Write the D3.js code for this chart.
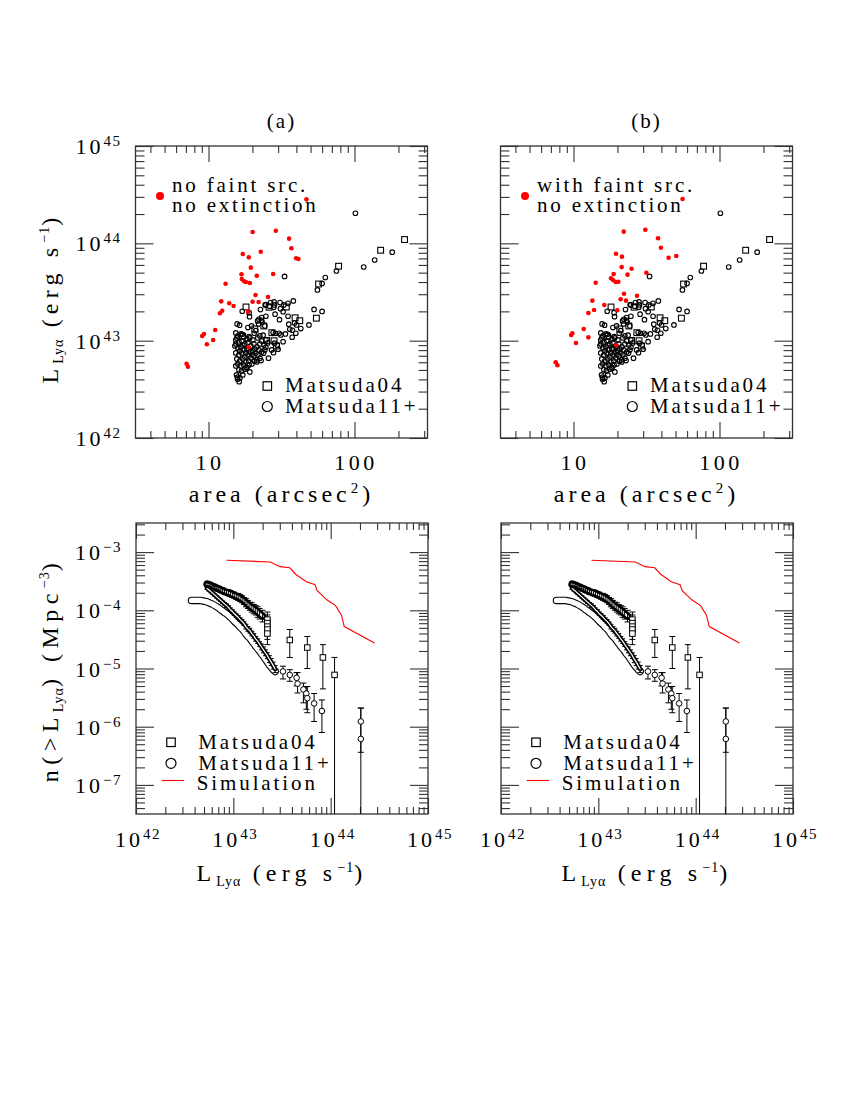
<!DOCTYPE html>
<html><head><meta charset="utf-8">
<script src="https://cdn.jsdelivr.net/npm/d3@7"></script>
<style>body{margin:0;background:#fff} text{font-family:'Liberation Serif',serif;fill:#000}</style>
</head><body><svg id="c" width="850" height="1100"></svg>
<script>
// ---------------- DATA (log10 values) ----------------
// Top panels: x = log10(area / arcsec^2), y = log10(L_Lya / erg s^-1)
const redA_logArea = [1.671,1.302,1.461,1.552,1.568,1.358,1.235,1.276,1.600,1.616,1.290,1.331,1.443,1.226,1.117,1.228,1.244,1.256,1.283,1.322,1.408,1.302,1.343,1.087,1.142,1.172,1.094,1.078,1.272,1.046,0.969,0.957,1.032,0.989,0.850,0.859,1.275];
const redA_logL    = [44.452,44.116,44.130,44.048,43.949,43.914,43.890,43.856,43.846,43.839,43.750,43.667,43.685,43.682,43.585,43.634,43.610,43.603,43.592,43.469,43.449,43.400,43.397,43.404,43.384,43.356,43.308,43.281,43.298,43.110,43.068,43.048,43.007,42.963,42.763,42.732,42.932];
const redB_logArea = [1.747,1.492,1.344,1.579,1.599,1.291,1.332,1.651,1.704,1.398,1.330,1.499,1.275,1.370,1.152,1.257,1.271,1.289,1.307,1.346,1.435,1.323,1.360,1.129,1.211,1.141,1.102,1.300,1.070,0.992,0.984,1.102,1.017,0.878,0.890,1.293];
const redB_logL    = [44.455,44.140,44.120,44.052,43.955,43.893,43.863,43.852,43.870,43.739,43.756,43.698,43.685,43.678,43.595,43.641,43.623,43.603,43.606,43.482,43.462,43.425,43.411,43.411,43.366,43.315,43.284,43.312,43.120,43.076,43.058,43.034,42.976,42.778,42.747,42.952];
const m04_logArea = [2.343,2.179,1.891,1.754,1.739,1.625,1.593,1.533,1.415,1.257,1.434,1.398,1.449,1.234,1.317,1.379,1.466];
const m04_logL    = [44.039,43.929,43.765,43.582,43.231,43.205,43.235,43.346,43.344,43.346,43.082,43.002,42.999,43.045,43.120,43.151,42.945];
const m11_logArea = [2.006,2.258,2.138,2.063,1.876,1.800,1.778,1.746,1.521,1.723,1.778,1.688,1.581,1.425,1.388,1.452,1.493,1.278,1.281,1.356,1.511,1.456,1.393,1.545,1.486,1.270,1.336,1.343,1.363,1.550,1.589,1.603,1.557,1.575,1.632,1.598,1.527,1.484,1.495,1.313,1.324,1.374,1.573,1.278,1.545,1.490,1.449,1.393,1.516,1.231,1.418,1.447,1.295,1.386,1.367,1.345,1.363,1.213,1.196,1.233,1.459,1.443,1.511,1.452,1.470,1.477,1.432,1.445,1.377,1.386,1.393,1.411,1.352,1.360,1.329,1.315,1.278,1.261,1.249,1.226,1.208,1.187,1.192,1.199,1.199,1.210,
  1.187,1.201,1.222,1.242,1.263,1.283,1.304,1.187,1.208,1.228,1.249,1.270,1.290,1.311,1.331,1.181,1.201,1.222,1.242,1.263,1.283,1.304,1.324,1.345,1.187,1.208,1.228,1.249,1.270,1.290,1.311,1.194,1.215,1.235,1.256,1.276,1.297,1.201,1.222,1.242,1.263,1.187,1.235,1.276,1.317,1.338,1.215,1.256,1.297,1.194,1.352,1.365,1.379,1.393,1.338,1.352,1.406,1.365,1.331,1.283,1.235,1.215];
const m11_logL    = [44.309,43.909,43.829,43.757,43.716,43.649,43.588,43.521,43.660,43.321,43.300,43.162,43.408,43.391,43.367,43.367,43.329,43.288,43.247,43.319,43.298,43.272,43.251,43.251,43.216,43.134,43.203,43.172,43.210,43.169,43.182,43.162,43.117,43.107,43.124,43.076,43.069,43.076,43.059,43.076,43.103,43.056,43.035,43.041,43.384,43.391,43.398,43.370,43.367,43.302,43.354,43.343,43.151,43.151,43.192,43.220,43.237,43.159,43.172,43.066,43.076,43.083,42.990,42.974,42.956,42.912,42.905,42.877,42.871,42.905,42.933,42.820,42.820,42.795,42.802,42.789,42.751,42.727,42.707,42.689,42.700,42.741,42.648,42.625,42.604,42.579,
  43.080,43.049,43.069,43.038,43.018,43.028,43.008,43.008,42.987,42.997,42.967,42.977,42.946,42.967,42.936,42.946,42.925,42.936,42.905,42.915,42.884,42.895,42.874,42.905,42.874,42.854,42.874,42.833,42.854,42.823,42.843,42.812,42.792,42.812,42.782,42.792,42.761,42.761,42.741,42.751,42.720,42.967,42.956,42.915,42.915,42.854,42.895,42.874,42.854,43.028,42.967,42.997,42.956,43.008,43.028,43.049,42.977,42.884,42.782,42.679,42.648,42.617];

// Bottom panels: x = log10(L_Lya), y = log10(n(>L) / Mpc^-3)
const simLogL = [42.93,43.38,43.48,43.58,43.64,43.75,43.84,43.86,43.96,44.05,44.11,44.14,44.45];
const simLogN = [-3.14,-3.17,-3.25,-3.27,-3.38,-3.51,-3.56,-3.66,-3.82,-3.92,-4.08,-4.28,-4.56];

const m04CumLogL = [42.73,42.75,42.77,42.79,42.81,42.83,42.85,42.87,42.89,42.91,42.93,42.95,42.97,42.99,43.01,43.03,43.05,43.07,43.09,43.11,43.13,43.15,43.17,43.19,43.21,43.23,43.25,43.27,43.30];
const m04CumLogN = [-3.55,-3.56,-3.57,-3.59,-3.60,-3.62,-3.63,-3.65,-3.66,-3.68,-3.69,-3.70,-3.71,-3.73,-3.74,-3.76,-3.77,-3.79,-3.81,-3.84,-3.87,-3.90,-3.93,-3.95,-3.98,-4.00,-4.03,-4.06,-4.10];
const m04CumErr  = [0.03,0.03,0.03,0.03,0.03,0.03,0.04,0.04,0.04,0.04,0.04,0.05,0.05,0.05,0.05,0.05,0.06,0.06,0.06,0.06,0.07,0.07,0.07,0.08,0.08,0.08,0.09,0.09,0.10];
const m04ColLogL = [43.35,43.35,43.35,43.35,43.35];
const m04ColLogN = [-4.16,-4.22,-4.28,-4.33,-4.40];
const m04ColErr  = [0.13,0.14,0.15,0.17,0.19];
const m04PtLogL  = [43.58,43.76,43.92,44.04];
const m04PtLogN  = [-4.51,-4.64,-4.81,-5.11];
const m04PtHi    = [-4.33,-4.45,-4.59,-4.81];
const m04PtLo    = [-4.81,-5.00,-5.35,-9.00];

const m11aCumLogL = [42.73,42.75,42.77,42.79,42.81,42.83,42.85,42.87,42.89,42.91,42.93,42.95,42.97,42.99,43.01,43.03,43.05,43.07,43.09,43.11,43.13,43.15,43.17,43.19,43.21,43.23,43.25,43.27,43.29,43.31,43.33,43.35,43.37,43.39,43.41,43.43];
const m11aCumLogN = [-3.62,-3.65,-3.68,-3.71,-3.74,-3.77,-3.80,-3.83,-3.86,-3.89,-3.92,-3.95,-3.99,-4.02,-4.06,-4.09,-4.12,-4.16,-4.19,-4.23,-4.28,-4.32,-4.35,-4.40,-4.44,-4.49,-4.53,-4.58,-4.63,-4.68,-4.73,-4.78,-4.84,-4.89,-4.95,-5.01];
const m11aCumErr  = [0.02,0.02,0.02,0.02,0.02,0.02,0.02,0.02,0.02,0.02,0.03,0.03,0.03,0.03,0.03,0.03,0.03,0.03,0.03,0.03,0.04,0.04,0.04,0.04,0.04,0.04,0.04,0.04,0.05,0.05,0.05,0.05,0.06,0.06,0.06,0.06];
const m11bCumLogL = [42.57,42.60,42.63,42.66,42.69,42.72,42.75,42.78,42.81,42.83,42.85,42.87,42.89,42.91,42.93,42.95,42.97,42.99,43.01,43.03,43.05,43.07,43.09,43.11,43.13,43.15,43.17,43.19,43.21,43.23,43.25,43.27,43.29,43.31,43.33,43.35,43.37,43.39,43.41,43.43];
const m11bCumLogN = [-3.83,-3.83,-3.83,-3.83,-3.84,-3.85,-3.87,-3.89,-3.92,-3.94,-3.96,-3.99,-4.01,-4.04,-4.06,-4.09,-4.12,-4.15,-4.19,-4.22,-4.25,-4.29,-4.32,-4.36,-4.41,-4.45,-4.48,-4.53,-4.57,-4.62,-4.66,-4.70,-4.75,-4.79,-4.84,-4.89,-4.94,-4.98,-5.02,-5.05];
const m11PtLogL = [43.51,43.58,43.65,43.66,43.72,43.75,43.76,43.83,43.91,44.31,44.31];
const m11PtLogN = [-5.05,-5.11,-5.16,-5.26,-5.36,-5.43,-5.51,-5.60,-5.73,-5.91,-6.21];
const m11PtHi   = [-4.96,-5.02,-5.07,-5.07,-5.25,-5.31,-5.31,-5.43,-5.54,-5.68,-5.68];
const m11PtLo   = [-5.18,-5.22,-5.30,-5.42,-5.59,-5.70,-5.76,-5.91,-6.10,-6.44,-9.00];

const topXMajor = [1, 2], topXLabels = ['10', '100'];
const topYMajor = [42, 43, 44, 45];
const botXMajor = [42, 43, 44, 45];
const botYMajor = [-3, -4, -5, -6, -7];
const panelTitles = ['(a)', '(b)'];
const legendTexts = [['no faint src.', 'no extinction'], ['with faint src.', 'no extinction']];

// ---------------- DRAWING ----------------
const svg = d3.select('#c');
const W = 292, H = 292, H2 = 291;
const lefts = [135.5, 500.5];
const T1 = 146, T2 = 523;
const AX = '#333';

function minorLogs(lo, hi) {
  const out = [];
  for (let d = Math.floor(lo) - 1; d <= Math.ceil(hi); d++)
    for (let k = 2; k <= 9; k++) { const v = d + Math.log10(k); if (v > lo + 1e-6 && v < hi - 1e-6) out.push(v); }
  return out;
}
function tickSet(g, fn, scale, vals, size, tr) {
  const a = g.append('g').attr('transform', tr)
    .call(fn(scale).tickValues(vals).tickSize(size).tickFormat(''));
  a.select('.domain').remove();
  a.selectAll('line').attr('stroke', AX).attr('stroke-width', 1.1);
}
function frame(g, xs, ys, w, h, xMaj, yMaj) {
  const [x0, x1] = xs.domain(), [y0, y1] = ys.domain();
  const xMin = minorLogs(x0, x1), yMin = minorLogs(Math.min(y0, y1), Math.max(y0, y1));
  tickSet(g, d3.axisBottom, xs, xMaj, -16, `translate(0,${h})`);
  tickSet(g, d3.axisBottom, xs, xMin, -7, `translate(0,${h})`);
  tickSet(g, d3.axisTop, xs, xMaj, -16, `translate(0,0)`);
  tickSet(g, d3.axisTop, xs, xMin, -7, `translate(0,0)`);
  tickSet(g, d3.axisLeft, ys, yMaj, -18, `translate(0,0)`);
  tickSet(g, d3.axisLeft, ys, yMin, -9, `translate(0,0)`);
  tickSet(g, d3.axisRight, ys, yMaj, -18, `translate(${w},0)`);
  tickSet(g, d3.axisRight, ys, yMin, -9, `translate(${w},0)`);
  g.append('rect').attr('width', w).attr('height', h).attr('fill', 'none').attr('stroke', AX).attr('stroke-width', 1.3);
}
function pow10(g, x, y, exp, anchor) {
  const t = g.append('text').attr('x', x).attr('y', y).attr('text-anchor', anchor)
    .attr('font-size', 22).attr('letter-spacing', 3);
  t.append('tspan').text('10');
  t.append('tspan').attr('dy', -8).attr('font-size', 15).attr('letter-spacing', 1.5).text(exp);
  return t;
}
function lumTitle(t) {
  t.append('tspan').text('L');
  t.append('tspan').attr('dy', 5).attr('font-size', 14).attr('letter-spacing', 1).text('Lyα');
  t.append('tspan').attr('dy', -5).text(' (erg s');
  t.append('tspan').attr('dy', -9).attr('font-size', 14).attr('letter-spacing', 1).text('−1');
  t.append('tspan').attr('dy', 9).text(')');
}
function circ(g, x, y, r, fill, sw) {
  g.append('circle').attr('cx', x).attr('cy', y).attr('r', r).attr('fill', fill).attr('stroke', '#000').attr('stroke-width', sw);
}
function sq(g, x, y, s, fill, sw) {
  g.append('rect').attr('x', x - s / 2).attr('y', y - s / 2).attr('width', s).attr('height', s).attr('fill', fill).attr('stroke', '#000').attr('stroke-width', sw);
}
function errbar(g, x, y1, y2, cap) {
  g.append('line').attr('x1', x).attr('x2', x).attr('y1', y1).attr('y2', y2).attr('stroke', '#000').attr('stroke-width', 1);
  [y1, y2].forEach(y => g.append('line').attr('x1', x - cap).attr('x2', x + cap).attr('y1', y).attr('y2', y).attr('stroke', '#000').attr('stroke-width', 1));
}
// dense run of open markers rendered as an outlined tube
function tube(g, xsArr, ysArr, xs, ys, outer, inner) {
  const pts = xsArr.map((v, i) => [xs(v), ys(ysArr[i])]);
  const ln = d3.line();
  g.append('path').attr('d', ln(pts)).attr('fill', 'none').attr('stroke', '#000').attr('stroke-width', outer)
    .attr('stroke-linecap', 'round').attr('stroke-linejoin', 'round');
  g.append('path').attr('d', ln(pts)).attr('fill', 'none').attr('stroke', '#fff').attr('stroke-width', inner)
    .attr('stroke-linecap', 'round').attr('stroke-linejoin', 'round');
}

// ===== Top panels =====
[0, 1].forEach(p => {
  const L = lefts[p];
  const g = svg.append('g').attr('transform', `translate(${L},${T1})`);
  const xs = d3.scaleLinear().domain([0.5, 2.5]).range([0, W]);
  const ys = d3.scaleLinear().domain([42, 45]).range([H, 0]);
  g.append('clipPath').attr('id', 'ct' + p).append('rect').attr('width', W).attr('height', H);
  frame(g, xs, ys, W, H, topXMajor, topYMajor);
  const d = g.append('g').attr('clip-path', `url(#ct${p})`);
  m11_logArea.forEach((a, i) => circ(d, xs(a), ys(m11_logL[i]), 2.3, 'none', 1.1));
  m04_logArea.forEach((a, i) => sq(d, xs(a), ys(m04_logL[i]), 5.8, 'none', 1.1));
  const ra = p === 0 ? redA_logArea : redB_logArea, rl = p === 0 ? redA_logL : redB_logL;
  ra.forEach((a, i) => d.append('circle').attr('cx', xs(a)).attr('cy', ys(rl[i])).attr('r', 2.3).attr('fill', '#ff0000'));
  // title
  g.append('text').attr('x', W / 2).attr('y', -18).attr('text-anchor', 'middle').attr('font-size', 21).attr('letter-spacing', 2).text(panelTitles[p]);
  // x tick labels
  topXMajor.forEach((v, i) => g.append('text').attr('x', xs(v) + 1.5).attr('y', H + 32).attr('text-anchor', 'middle')
    .attr('font-size', 22).attr('letter-spacing', 3.5).text(topXLabels[i]));
  // y labels
  if (p === 0) topYMajor.forEach(v => pow10(g, -14, ys(v) + 8, String(v), 'end'));
  // x title
  const xt = g.append('text').attr('x', W / 2).attr('y', H + 64).attr('text-anchor', 'middle').attr('font-size', 24).attr('letter-spacing', 4);
  xt.append('tspan').text('area (arcsec');
  xt.append('tspan').attr('dy', -9).attr('font-size', 15).text('2');
  xt.append('tspan').attr('dy', 9).text(')');
  // legend
  g.append('circle').attr('cx', 24.5).attr('cy', 50).attr('r', 4).attr('fill', '#ff0000');
  legendTexts[p].forEach((s, i) => g.append('text').attr('x', 36.5).attr('y', 45.7 + 20 * i).attr('font-size', 21).attr('letter-spacing', 2.8).text(s));
  sq(g, 131.8, 240, 8.5, 'none', 1.2);
  g.append('text').attr('x', 149.5).attr('y', 246).attr('font-size', 21).attr('letter-spacing', 2.9).text('Matsuda04');
  circ(g, 131.8, 260.5, 5, 'none', 1.2);
  g.append('text').attr('x', 149.5).attr('y', 267).attr('font-size', 21).attr('letter-spacing', 2.9).text('Matsuda11+');
});
// top y title
{
  const t = svg.append('text').attr('transform', 'translate(58,298) rotate(-90)').attr('text-anchor', 'middle').attr('font-size', 24).attr('letter-spacing', 5.2);
  lumTitle(t);
}

// ===== Bottom panels =====
[0, 1].forEach(p => {
  const L = lefts[p] + 0.5;
  const g = svg.append('g').attr('transform', `translate(${L},${T2})`);
  const xs = d3.scaleLinear().domain([42, 45]).range([0, W]);
  const ys = d3.scaleLinear().domain([-7.5, -2.5]).range([H2, 0]);
  g.append('clipPath').attr('id', 'cb' + p).append('rect').attr('width', W).attr('height', H2);
  frame(g, xs, ys, W, H2, botXMajor, botYMajor);
  const d = g.append('g').attr('clip-path', `url(#cb${p})`);
  // simulation
  d.append('path').datum(simLogL.map((v, i) => [v, simLogN[i]]))
    .attr('d', d3.line().x(q => xs(q[0])).y(q => ys(q[1])))
    .attr('fill', 'none').attr('stroke', '#ff0000').attr('stroke-width', 1.1);
  // Matsuda11+ cumulative, bright sample (white tube)
  tube(d, m11bCumLogL, m11bCumLogN, xs, ys, 7.5, 5.3);
  // Matsuda11+ cumulative with error bars (dark)
  m11aCumLogL.forEach((v, i) => errbar(d, xs(v), ys(m11aCumLogN[i] + m11aCumErr[i]), ys(m11aCumLogN[i] - m11aCumErr[i]), 2.5));
  tube(d, m11aCumLogL, m11aCumLogN, xs, ys, 4.5, 1.2);
  // Matsuda04 cumulative
  tube(d, m04CumLogL, m04CumLogN, xs, ys, 7.5, 2.5);
  m04CumLogL.forEach((v, i) => errbar(d, xs(v), ys(m04CumLogN[i] + m04CumErr[i]), ys(m04CumLogN[i] - m04CumErr[i]), 3));
  m04ColLogL.forEach((v, i) => errbar(d, xs(v), ys(m04ColLogN[i] + m04ColErr[i]), ys(m04ColLogN[i] - m04ColErr[i]), 3));
  m04ColLogL.forEach((v, i) => sq(d, xs(v), ys(m04ColLogN[i]), 5.5, '#fff', 1));
  // individual points with error bars
  m04PtLogL.forEach((v, i) => errbar(d, xs(v), ys(m04PtHi[i]), ys(m04PtLo[i]), 3));
  m04PtLogL.forEach((v, i) => sq(d, xs(v), ys(m04PtLogN[i]), 5.5, '#fff', 1));
  m11PtLogL.forEach((v, i) => errbar(d, xs(v), ys(m11PtHi[i]), ys(m11PtLo[i]), 3));
  m11PtLogL.forEach((v, i) => circ(d, xs(v), ys(m11PtLogN[i]), 2.8, '#fff', 1));
  // x labels
  botXMajor.forEach(v => pow10(g, xs(v) + 2, H2 + 33, String(v), 'middle'));
  if (p === 0) botYMajor.forEach(v => pow10(g, -14, ys(v) + 8, '−' + String(-v), 'end'));
  // x title
  const xt = g.append('text').attr('x', W / 2).attr('y', H2 + 67).attr('text-anchor', 'middle').attr('font-size', 24).attr('letter-spacing', 5.2);
  lumTitle(xt);
  // legend
  sq(g, 35, 219.3, 8.5, 'none', 1.2);
  g.append('text').attr('x', 62.3).attr('y', 226).attr('font-size', 21).attr('letter-spacing', 2.9).text('Matsuda04');
  circ(g, 35, 240.3, 5, 'none', 1.2);
  g.append('text').attr('x', 62.3).attr('y', 247).attr('font-size', 21).attr('letter-spacing', 2.9).text('Matsuda11+');
  g.append('line').attr('x1', 25.7).attr('x2', 48).attr('y1', 257.5).attr('y2', 257.5).attr('stroke', '#ff0000').attr('stroke-width', 1.1);
  g.append('text').attr('x', 60.7).attr('y', 267).attr('font-size', 21).attr('letter-spacing', 2.9).text('Simulation');
});
// bottom y title
{
  const t = svg.append('text').attr('transform', 'translate(58,670) rotate(-90)').attr('text-anchor', 'middle').attr('font-size', 24).attr('letter-spacing', 5.5);
  t.append('tspan').text('n(>L');
  t.append('tspan').attr('dy', 5).attr('font-size', 14).attr('letter-spacing', 1).text('Lyα');
  t.append('tspan').attr('dy', -5).text(') (Mpc');
  t.append('tspan').attr('dy', -9).attr('font-size', 14).attr('letter-spacing', 1).text('−3');
  t.append('tspan').attr('dy', 9).text(')');
}
</script></body></html>
